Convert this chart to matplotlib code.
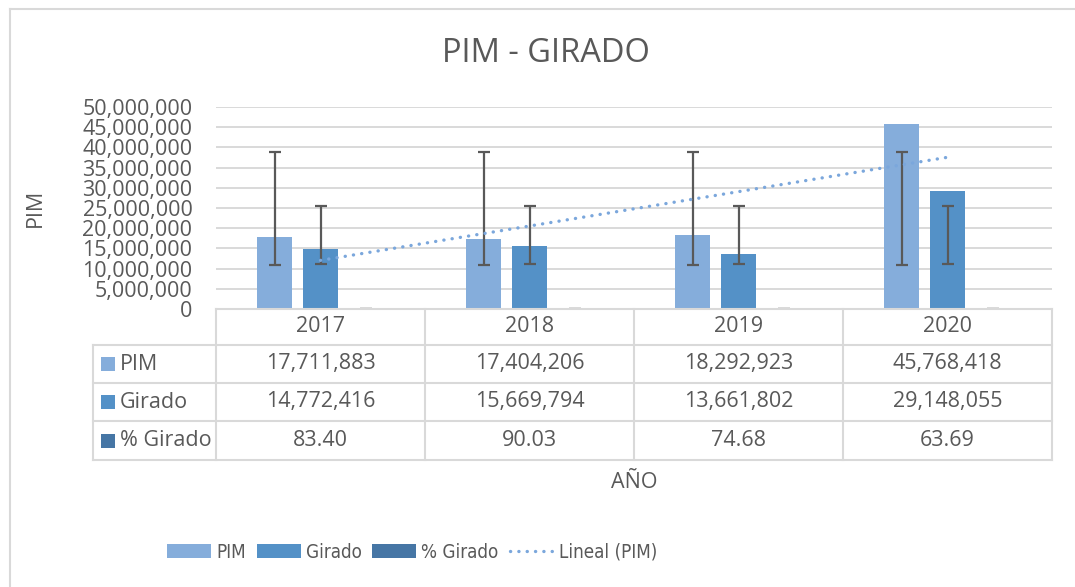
import matplotlib
matplotlib.use("Agg")
import matplotlib.pyplot as plt
import numpy as np
from matplotlib import font_manager
from matplotlib.font_manager import FontProperties
from matplotlib.lines import Line2D
from matplotlib.patches import Patch, Rectangle
from matplotlib.transforms import Affine2D, blended_transform_factory

# ---------------- data ----------------
years = ["2017", "2018", "2019", "2020"]
pim = [17711883, 17404206, 18292923, 45768418]
girado = [14772416, 15669794, 13661802, 29148055]
pct_girado = [83.40, 90.03, 74.68, 63.69]
series_names = ["PIM", "Girado", "% Girado"]
y_ticks = list(range(0, 50000001, 5000000))
title = "PIM - GIRADO"
x_label = "AÑO"
y_label = "PIM"
trend_label = "Lineal (PIM)"

# ---------------- style ----------------
W, H = 1075, 587
plt.rcParams['font.family'] = ['Open Sans', 'DejaVu Sans']

# look for a condensed / narrow regular font for the legend
cond = None
for f in font_manager.fontManager.ttflist:
    fn = f.fname.lower()
    if ('condensed' in fn or 'narrow' in fn) and f.style == 'normal' \
            and f.weight in (400, 'normal', 'regular') and 'mono' not in fn \
            and 'serif' not in fn.replace('sans', ''):
        cond = f.fname
        break
if cond:
    leg_prop = FontProperties(fname=cond, size=13.5)
else:
    leg_prop = FontProperties(family='Open Sans', size=11.5)

TXT = '#595959'
GRID = '#D9D9D9'
colors = ['#85ADDB', '#5491C7', '#4676A5']
trend_color = '#7BA7DC'
FS = 15.5

fig = plt.figure(figsize=(W / 100, H / 100), dpi=100)
pixT = Affine2D().scale(1 / 100, -1 / 100).translate(0, H / 100) + fig.dpi_scale_trans


def fx(px):
    return px / W


def fy(py):
    return 1 - py / H


ax = fig.add_axes([fx(216), fy(309), fx(1052) - fx(216), fy(107) - fy(309)])
ax.set_xlim(-0.5, len(years) - 0.5)
ax.set_ylim(0, 50000000)

x = np.arange(len(years))
offsets = [-0.22, 0.0, 0.22]
bw = 0.172
all_series = [pim, girado, pct_girado]
for vals, off, c, name in zip(all_series, offsets, colors, series_names):
    ax.bar(x + off, vals, width=bw, color=c, zorder=2, label=name)
    m = np.mean(vals)
    sd = np.std(vals, ddof=1)
    ax.errorbar(x + off, [m] * len(vals), yerr=sd, fmt='none', ecolor=TXT,
                elinewidth=1.6, capsize=4.3, capthick=1.6, zorder=4)

# linear trendline of PIM
coef = np.polyfit(x + 1, pim, 1)
ax.plot(x, np.polyval(coef, x + 1), color=trend_color, lw=2.4,
        dashes=[0.05, 2.45], dash_capstyle='round', zorder=5)

ax.set_yticks(y_ticks)
ax.set_yticklabels([f"{v:,}" for v in y_ticks], fontsize=FS, color=TXT)
ax.tick_params(axis='y', length=0, pad=17)
ax.set_xticks([])
ax.yaxis.grid(True, color=GRID, lw=1.4, zorder=0)
ax.set_axisbelow(True)
for s in ax.spines.values():
    s.set_visible(False)

# ---------------- data table ----------------
bt = blended_transform_factory(ax.transData, pixT)
edges = np.arange(len(years) + 1) - 0.5
row_y = [309, 345, 383, 421, 460]
label_left = 93
tl = dict(color=GRID, lw=1.5, clip_on=False)
fig.add_artist(Line2D([edges[0], edges[-1]], [row_y[0]] * 2, transform=bt, **tl))
x_left_data = ax.transData.inverted().transform(pixT.transform((label_left, 0)))[0]
for yy in row_y[1:]:
    fig.add_artist(Line2D([x_left_data, edges[-1]], [yy, yy], transform=bt, **tl))
for e in edges:
    fig.add_artist(Line2D([e, e], [row_y[0], row_y[-1]], transform=bt, **tl))
fig.add_artist(Line2D([label_left, label_left], [row_y[1], row_y[-1]], transform=pixT, **tl))

for i, yr in enumerate(years):
    fig.text(i, (row_y[0] + row_y[1]) / 2, yr, transform=bt, ha='center', va='center',
             fontsize=FS, color=TXT)

fmt_funcs = [lambda v: f"{v:,}", lambda v: f"{v:,}", lambda v: f"{v:.2f}"]
for r, (name, vals, c, f) in enumerate(zip(series_names, all_series, colors, fmt_funcs)):
    yc = (row_y[r + 1] + row_y[r + 2]) / 2
    fig.add_artist(Rectangle((101, yc - 7), 14, 14, transform=pixT, facecolor=c,
                             edgecolor='none'))
    fig.text(120, yc, name, transform=pixT, ha='left', va='center', fontsize=FS, color=TXT)
    for i, v in enumerate(vals):
        fig.text(i, yc, f(v), transform=bt, ha='center', va='center', fontsize=FS, color=TXT)

# ---------------- texts ----------------
fig.text(fx(546), fy(53), title, ha='center', va='center', fontsize=23.5, color=TXT)
fig.text(fx(634), fy(482), x_label, ha='center', va='center', fontsize=FS, color=TXT)
fig.text(fx(35), fy(208), y_label, ha='center', va='center', rotation=90, fontsize=FS,
         color=TXT)

# ---------------- legend ----------------
handles = [Patch(facecolor=c, edgecolor='none') for c in colors]
handles.append(Line2D([0], [0], color=trend_color, lw=2.4, dashes=[0.05, 2.45],
                      dash_capstyle='round'))
labels = series_names + [trend_label]
lsz = leg_prop.get_size_in_points() * 100 / 72  # px per em
fig.legend(handles, labels, loc='center', bbox_to_anchor=(fx(412), fy(552)), ncol=4,
           frameon=False, prop=leg_prop, labelcolor=TXT,
           handlelength=44 / lsz, handleheight=14 / lsz, handletextpad=5 / lsz,
           columnspacing=(11 if cond else 10) / lsz)

# ---------------- outer border ----------------
fig.add_artist(Line2D([10, 10], [9, H], transform=pixT, color=GRID, lw=1.5))
fig.add_artist(Line2D([10, W], [9, 9], transform=pixT, color=GRID, lw=1.5))

fig.savefig("out.png", dpi=100)
